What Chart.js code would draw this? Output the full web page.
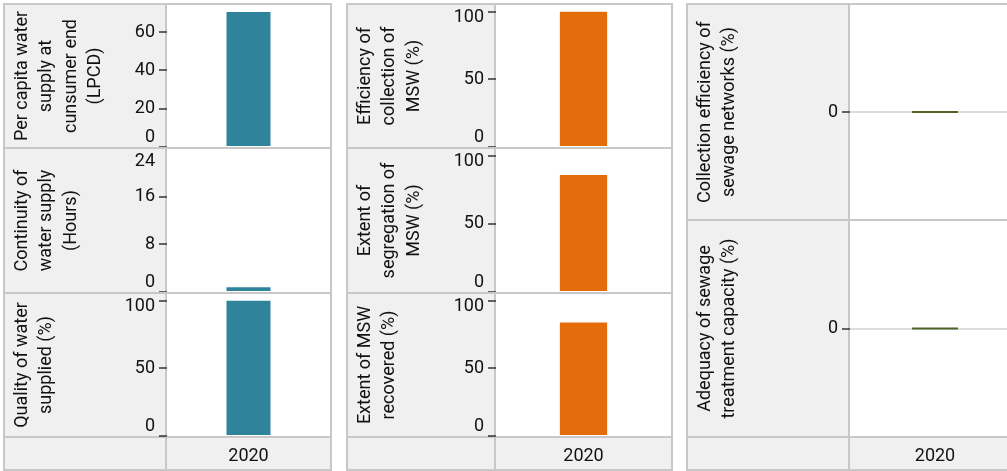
<!DOCTYPE html>
<html>
<head>
<meta charset="utf-8">
<script src="https://cdn.jsdelivr.net/npm/chart.js@4.4.1/dist/chart.umd.min.js"></script>
<style>
  html, body { margin: 0; padding: 0; background: #fff; width: 1007px; height: 471px; overflow: hidden; }
  canvas { position: absolute; }
</style>
</head>
<body>
<script>
// data
const years = ['2020']

const waterTitles = [['Per capita water', 'supply at', 'cunsumer end', '(LPCD)'], ['Continuity of', 'water supply', '(Hours)'], ['Quality of water', 'supplied (%)']]
const waterValues = [70.6, 0.8, 100]
const waterMax = [74.2, 24, 105]
const waterTicks = [[0, 20, 40, 60], [0, 8, 16, 24], [0, 50, 100]]

const mswTitles = [['Efficiency of', 'collection of', 'MSW (%)'], ['Extent of', 'segregation of', 'MSW (%)'], ['Extent of MSW', 'recovered (%)']]
const mswValues = [100, 86, 84]
const mswMax = [105, 105, 105]
const mswTicks = [[0, 50, 100], [0, 50, 100], [0, 50, 100]]

const sewageTitles = [['Collection efficiency of', 'sewage networks (%)'], ['Adequacy of sewage', 'treatment capacity (%)']]
const sewageValues = [0, 0]
const sewageMin = [-1, -1]
const sewageMax = [1, 1]
const sewageTicks = [[0], [0]]

// look
const GRID = '#c8c8c8'
const PANEL = '#f0f0f0'
const INK = '#111'

Chart.defaults.font.family = 'Roboto'
Chart.defaults.font.size = 18
Chart.defaults.color = INK

// grey panels, borders, and labels kept inside their row
const framePlugin = {
    id: 'frame',
    beforeDraw(chart) {
        const {ctx, chartArea: a, width: w, height: h} = chart
        const hasStrip = a.bottom < h - 3
        ctx.save()
        ctx.fillStyle = PANEL
        ctx.fillRect(0, 0, a.left, h)
        if (hasStrip) ctx.fillRect(0, a.bottom, w, h - a.bottom)
        ctx.strokeStyle = GRID
        ctx.lineWidth = 2
        ctx.strokeRect(1, 1, w - 2, h - 2)
        ctx.beginPath()
        ctx.moveTo(a.left - 1, 0)
        ctx.lineTo(a.left - 1, h)
        if (hasStrip) {
            ctx.moveTo(0, a.bottom + 1)
            ctx.lineTo(w, a.bottom + 1)
        }
        ctx.stroke()
        ctx.restore()

        chart.scales.y.getLabelItems().forEach(item => {
            const t = item.options.translation
            t[1] = Math.min(Math.max(t[1], a.top + 12), a.bottom - 10)
        })
    }
}

function cell(box, title, value, min, max, ticks, color, zeroLine) {
    const canvas = document.createElement('canvas')
    canvas.width = box.w
    canvas.height = box.h
    canvas.style.left = box.x + 'px'
    canvas.style.top = box.y + 'px'
    document.body.appendChild(canvas)

    new Chart(canvas, {
        type: 'bar',
        data: {
            labels: years,
            datasets: [{
                data: [value],
                backgroundColor: color,
                barPercentage: 0.27,
                categoryPercentage: 1,
                minBarLength: 2
            }]
        },
        options: {
            responsive: false,
            animation: false,
            devicePixelRatio: 1,
            layout: { padding: { top: 2, bottom: 2, left: 0, right: 2 } },
            plugins: { legend: { display: false }, tooltip: { enabled: false } },
            scales: {
                x: {
                    display: box.strip > 0,
                    grid: { display: false },
                    border: { display: false },
                    ticks: { padding: 2, color: INK, font: { size: 18 } },
                    afterFit: s => { s.height = box.strip; s.paddingLeft = 0; s.paddingRight = 0 }
                },
                y: {
                    min: min,
                    max: max,
                    border: { display: false },
                    grid: {
                        drawOnChartArea: zeroLine,
                        color: '#dcdcdc',
                        lineWidth: 2,
                        tickLength: 8,
                        // a tick sitting on the top border is hidden by it
                        tickColor: c => (c.tick && c.tick.value === max) ? 'rgba(0,0,0,0)' : '#333',
                        tickWidth: 1.5
                    },
                    ticks: { padding: 4, color: INK, font: { size: 18 } },
                    title: {
                        display: true,
                        text: title,
                        color: INK,
                        padding: { top: 7, bottom: 0 },
                        font: { size: 18, lineHeight: '24.5px' }
                    },
                    afterBuildTicks: s => { s.ticks = ticks.map(v => ({ value: v })) },
                    afterFit: s => { s.width = box.panel; s.paddingTop = 0; s.paddingBottom = 0 }
                }
            }
        },
        plugins: [framePlugin]
    })
}

// column geometry: border line positions
const colWater = { left: 4, divider: 166, right: 331, rows: [4, 148, 293, 437], bottom: 470 }
const colMsw = { left: 347, divider: 495, right: 672, rows: [4, 148, 293, 437], bottom: 470 }
const colSewage = { left: 687, divider: 849, right: 1021, rows: [4, 220, 437], bottom: 470 }

function boxFor(col, i) {
    const last = i === col.rows.length - 2
    const top = col.rows[i]
    const end = last ? col.bottom : col.rows[i + 1]
    return {
        x: col.left - 1,
        y: top - 1,
        w: col.right - col.left + 2,
        h: end - top + 2,
        panel: col.divider + 1 - (col.left - 1),
        strip: last ? col.bottom - col.rows[i + 1] : 0
    }
}

waterValues.forEach((v, i) => {
    cell(boxFor(colWater, i), waterTitles[i], v, 0, waterMax[i], waterTicks[i], '#2f849b', false)
})
mswValues.forEach((v, i) => {
    cell(boxFor(colMsw, i), mswTitles[i], v, 0, mswMax[i], mswTicks[i], '#e46c0a', false)
})
sewageValues.forEach((v, i) => {
    cell(boxFor(colSewage, i), sewageTitles[i], v, sewageMin[i], sewageMax[i], sewageTicks[i], '#4f6228', true)
})
</script>
</body>
</html>
